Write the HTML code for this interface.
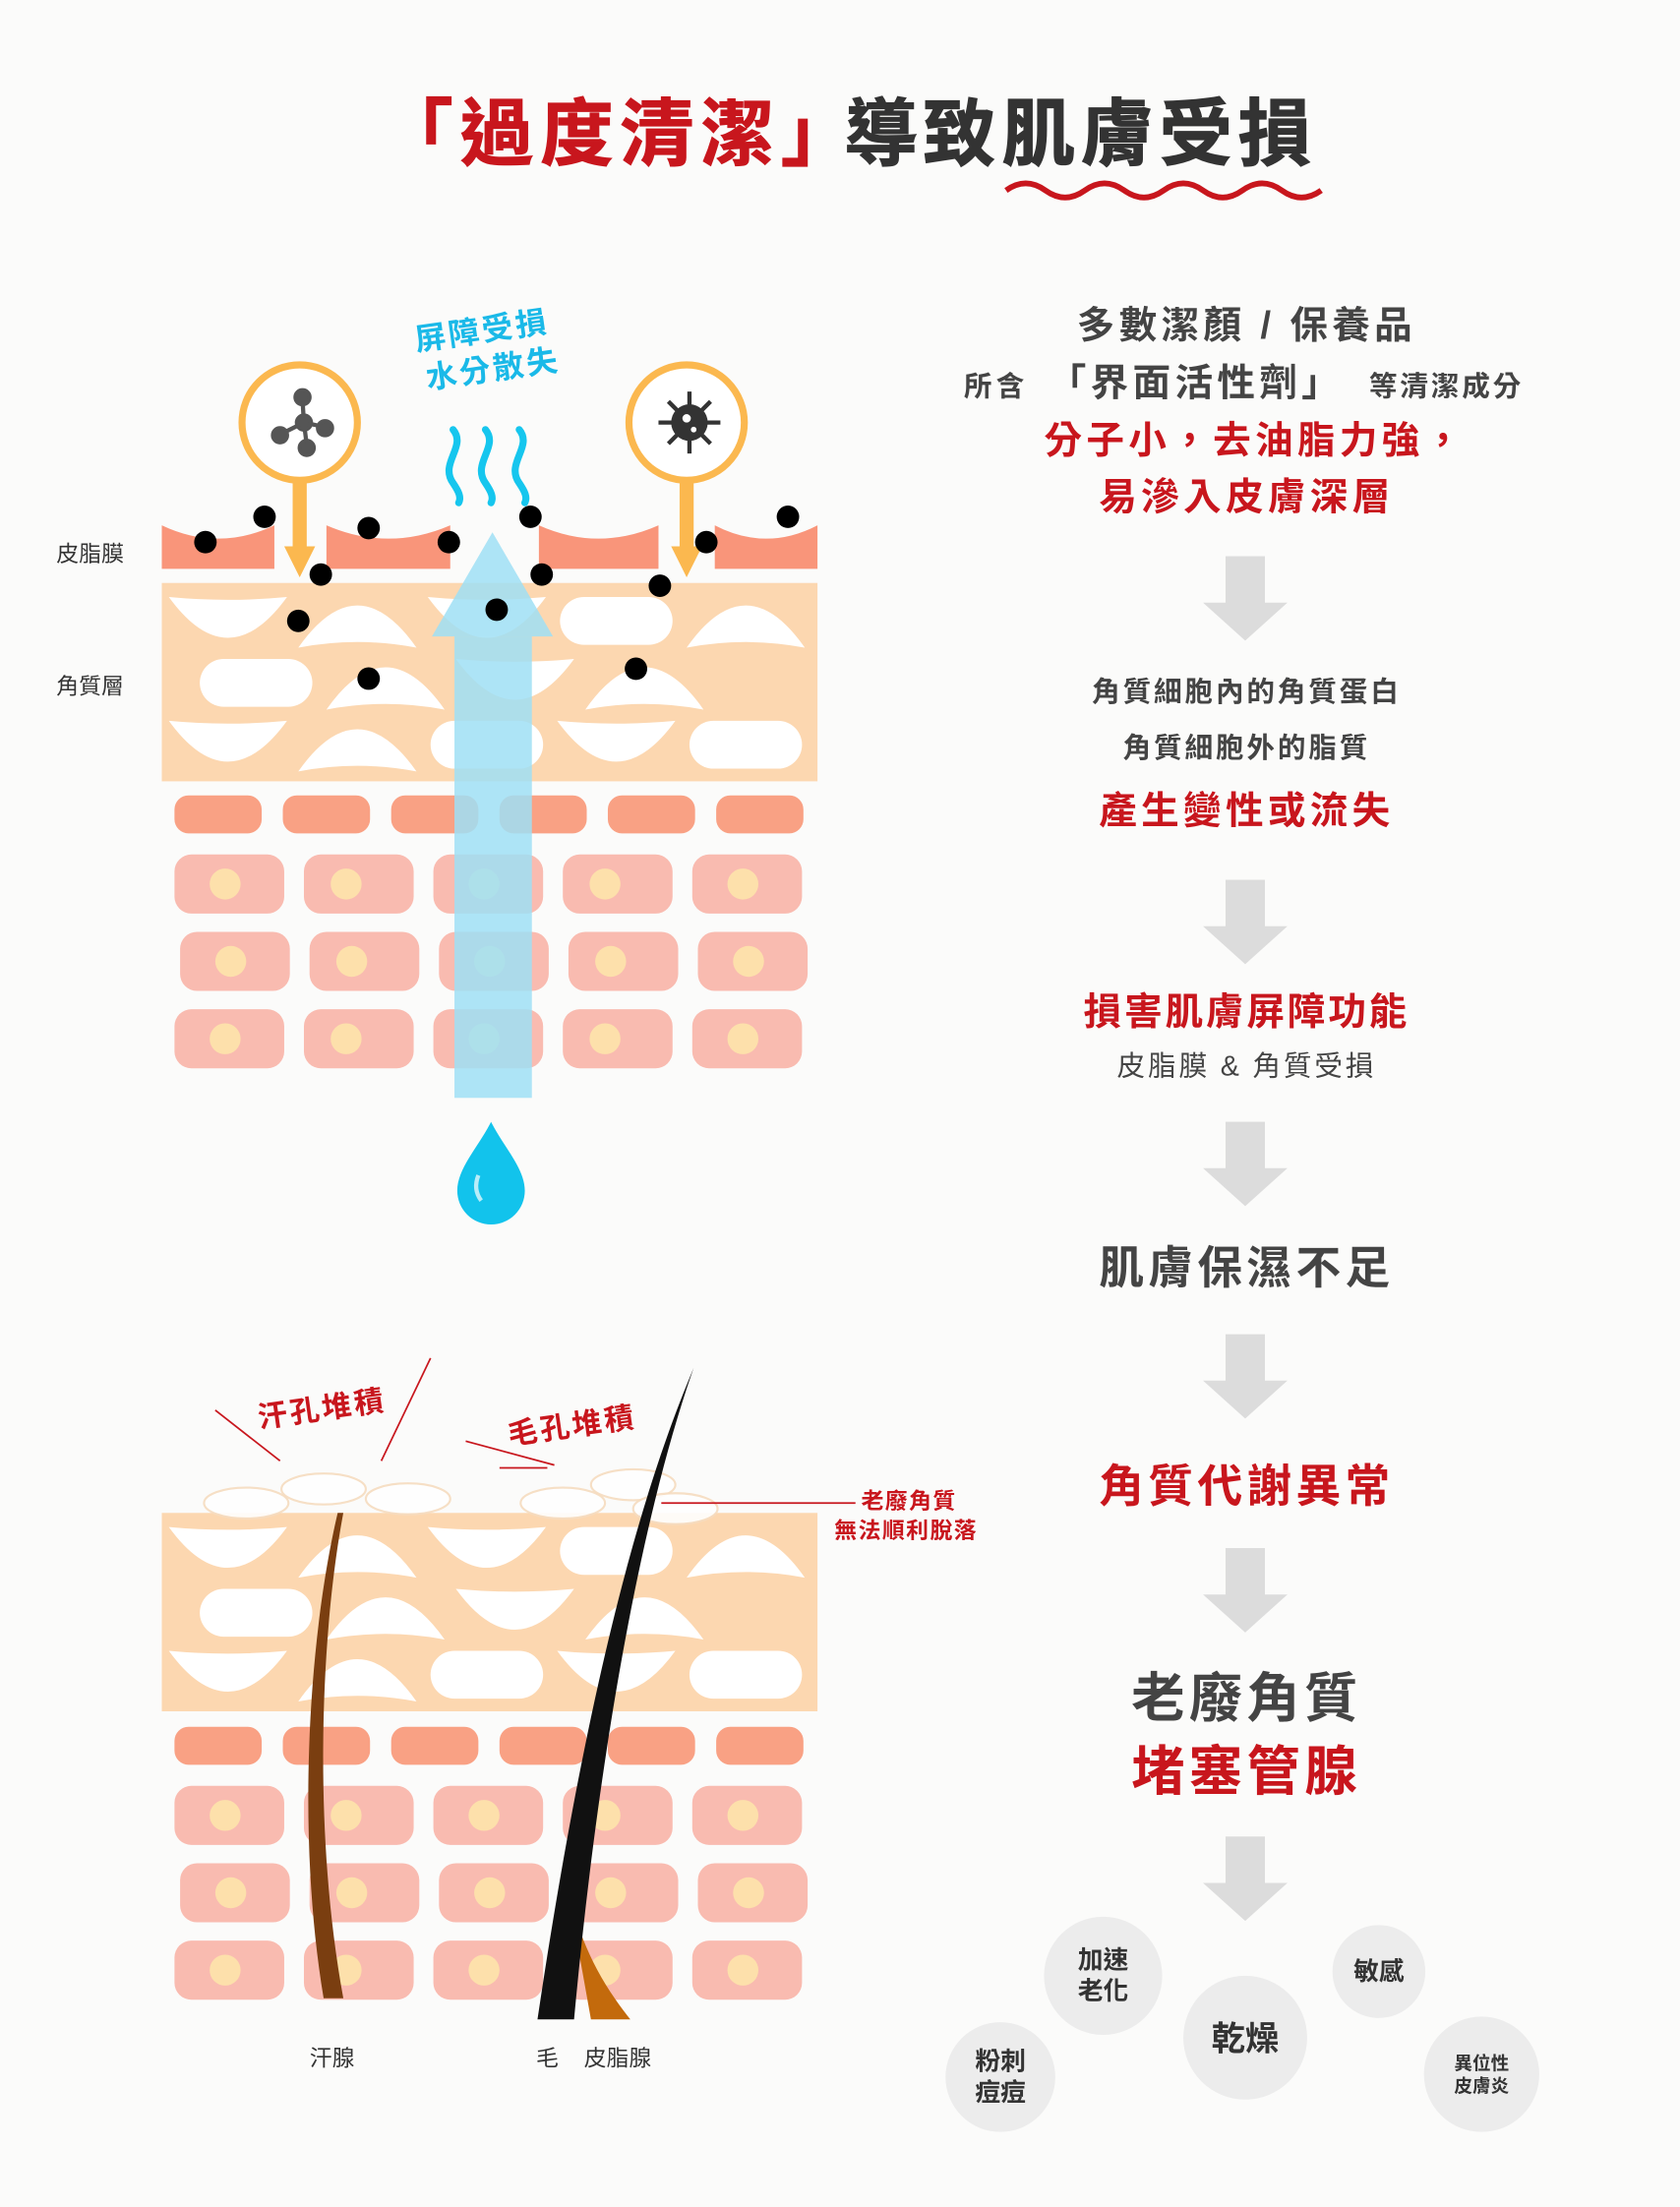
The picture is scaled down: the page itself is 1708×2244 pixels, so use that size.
<!DOCTYPE html>
<html><head><meta charset="utf-8">
<style>
html,body{margin:0;padding:0;background:#fbfbfa;}
svg{display:block}
text{font-family:"Liberation Sans","Noto Sans CJK TC",sans-serif;}
</style></head>
<body>
<svg id="s" xmlns="http://www.w3.org/2000/svg" width="1708" height="2244" viewBox="0 0 1194 1568">
<rect width="1194" height="1568" fill="#fbfbfa"/>
<text x="270" y="113" font-size="52" font-weight="bold" fill="#c8161d" font-family="Noto Serif CJK SC, serif" letter-spacing="5" stroke="#c8161d" stroke-width="0.8">「過度清潔」</text>
<text x="600" y="113" font-size="52" font-weight="bold" fill="#333" font-family="Noto Serif CJK SC, serif" letter-spacing="4" stroke="#333" stroke-width="0.8">導致肌膚受損</text>
<path d="M715,135 q14,-10 28,0 t28,0 t28,0 t28,0 t28,0 t28,0 t28,0 t28,0" fill="none" stroke="#c8161d" stroke-width="4"/>

<g id="skin1"></g>
<g id="skin2"></g>

<text x="40" y="399" font-size="16" fill="#333">皮脂膜</text>
<text x="40" y="493" font-size="16" fill="#333">角質層</text>

<g transform="rotate(-8 345 245)" fill="#1ab9e8" font-size="22" font-weight="bold" letter-spacing="2">
<text x="296" y="242">屏障受損</text>
<text x="300" y="270">水分散失</text>
</g>
<g fill="none" stroke="#16c6ee" stroke-width="5" stroke-linecap="round">
<path d="M322,305 c10,12 -10,24 0,38 c4,6 6,10 4,14"/>
<path d="M345,305 c10,12 -10,24 0,38 c4,6 6,10 4,14"/>
<path d="M369,305 c10,12 -10,24 0,38 c4,6 6,10 4,14"/>
</g>
<path d="M349,797 C340,815 325,830 325,846 A24,24 0 0 0 373,846 C373,830 358,815 349,797Z" fill="#12c3ec"/>
<path d="M340,835 q-4,10 2,18" stroke="#fff" stroke-width="3" fill="none" opacity=".7"/>

<g>
<circle cx="213" cy="300" r="41" fill="#fff" stroke="#fbb84f" stroke-width="5"/>
<rect x="208" y="340" width="10" height="50" fill="#fbb84f"/>
<polygon points="202,388 224,388 213,410" fill="#fbb84f"/>
<g stroke="#555" stroke-width="3" fill="#555"><line x1="215" y1="284" x2="216" y2="300"/><line x1="216" y1="300" x2="200" y2="308"/><line x1="216" y1="300" x2="230" y2="303"/><line x1="216" y1="300" x2="218" y2="316"/>
<circle cx="215" cy="282" r="5"/><circle cx="216" cy="300" r="5"/><circle cx="199" cy="309" r="5"/><circle cx="231" cy="304" r="5"/><circle cx="218" cy="318" r="5"/></g>
<circle cx="488" cy="300" r="41" fill="#fff" stroke="#fbb84f" stroke-width="5"/>
<rect x="483" y="340" width="10" height="50" fill="#fbb84f"/>
<polygon points="477,388 499,388 488,410" fill="#fbb84f"/>
<g stroke="#333" stroke-width="3"><line x1="490" y1="278" x2="490" y2="322"/><line x1="468" y1="300" x2="512" y2="300"/><line x1="475" y1="285" x2="505" y2="315"/><line x1="505" y1="285" x2="475" y2="315"/></g>
<circle cx="490" cy="300" r="13" fill="#333"/><circle cx="488" cy="297" r="3" fill="#fff"/><circle cx="493" cy="305" r="2" fill="#fff"/>
</g>

<g fill="#000">
<circle cx="146" cy="385" r="8"/><circle cx="188" cy="367" r="8"/><circle cx="228" cy="408" r="8"/><circle cx="262" cy="375" r="8"/><circle cx="319" cy="385" r="8"/><circle cx="212" cy="441" r="8"/><circle cx="262" cy="482" r="8"/><circle cx="377" cy="367" r="8"/><circle cx="385" cy="408" r="8"/><circle cx="353" cy="433" r="8"/><circle cx="469" cy="416" r="8"/><circle cx="452" cy="475" r="8"/><circle cx="502" cy="385" r="8"/><circle cx="560" cy="367" r="8"/>
</g>

<g transform="rotate(-8 230 995)"><text x="182" y="1008" font-size="21" font-weight="bold" fill="#c8161d" letter-spacing="2">汗孔堆積</text></g>
<g transform="rotate(-8 408 1008)"><text x="360" y="1020" font-size="21" font-weight="bold" fill="#c8161d" letter-spacing="2">毛孔堆積</text></g>
<g stroke="#c8161d" stroke-width="1.2">
<line x1="153" y1="1002" x2="199" y2="1038"/><line x1="306" y1="965" x2="271" y2="1038"/>
<line x1="331" y1="1024" x2="394" y2="1041"/><line x1="355" y1="1043" x2="389" y2="1043"/>
<line x1="470" y1="1068" x2="608" y2="1068"/>
</g>
<text x="612" y="1072" font-size="16" font-weight="bold" fill="#c8161d" letter-spacing="1">老廢角質</text>
<text x="593" y="1093" font-size="16" font-weight="bold" fill="#c8161d" letter-spacing="1">無法順利脫落</text>
<text x="220" y="1468" font-size="16" fill="#333">汗腺</text>
<text x="381" y="1468" font-size="16" fill="#333">毛</text>
<text x="415" y="1468" font-size="16" fill="#333">皮脂腺</text>

<g text-anchor="middle" font-weight="bold">
<text x="886" y="240" font-size="27" fill="#444" letter-spacing="3">多數潔顏 / 保養品</text>
<text x="708" y="281" font-size="20" fill="#444" letter-spacing="3">所含</text>
<text x="850" y="281" font-size="27" fill="#444" letter-spacing="3">「界面活性劑」</text>
<text x="1028" y="281" font-size="20" fill="#444" letter-spacing="2">等清潔成分</text>
<text x="892" y="322" font-size="27" fill="#c8161d" letter-spacing="3">分子小，去油脂力強，</text>
<text x="886" y="362" font-size="27" fill="#c8161d" letter-spacing="3">易滲入皮膚深層</text>
<text x="886" y="498" font-size="20" fill="#444" letter-spacing="2">角質細胞內的角質蛋白</text>
<text x="886" y="538" font-size="20" fill="#444" letter-spacing="2">角質細胞外的脂質</text>
<text x="886" y="585" font-size="27" fill="#c8161d" letter-spacing="3">產生變性或流失</text>
<text x="886" y="728" font-size="27" fill="#c8161d" letter-spacing="2">損害肌膚屏障功能</text>
<text x="886" y="764" font-size="20" font-weight="normal" fill="#444" letter-spacing="2">皮脂膜 &amp; 角質受損</text>
<text x="886" y="912" font-size="32" fill="#444" letter-spacing="3">肌膚保濕不足</text>
<text x="886" y="1067" font-size="32" fill="#c8161d" letter-spacing="3">角質代謝異常</text>
<text x="886" y="1220" font-size="38" fill="#444" letter-spacing="3">老廢角質</text>
<text x="886" y="1272" font-size="38" fill="#c8161d" letter-spacing="3">堵塞管腺</text>
</g>
<g fill="#dcdcdc" id="arrows"></g>

<g fill="#ececec">
<circle cx="784" cy="1404" r="42"/><circle cx="885" cy="1448" r="44"/><circle cx="980" cy="1401" r="33"/><circle cx="711" cy="1476" r="39"/><circle cx="1053" cy="1474" r="41"/>
</g>
<g text-anchor="middle" fill="#333" font-weight="bold">
<text x="784" y="1399" font-size="18">加速</text><text x="784" y="1421" font-size="18">老化</text>
<text x="885" y="1457" font-size="24">乾燥</text>
<text x="980" y="1407" font-size="18">敏感</text>
<text x="711" y="1471" font-size="18">粉刺</text><text x="711" y="1493" font-size="18">痘痘</text>
<text x="1053" y="1471" font-size="13">異位性</text><text x="1053" y="1487" font-size="13">皮膚炎</text>
</g>
</svg>
<script>
const NS="http://www.w3.org/2000/svg";
function el(p,t,a){const e=document.createElementNS(NS,t);for(const k in a)e.setAttribute(k,a[k]);p.appendChild(e);return e;}
function corneum(g,y0){
 el(g,'rect',{x:115,y:y0,width:466,height:141,fill:'#fcd7b0'});
 const types=[[0,1,0,2,1],[2,1,0,1,0],[0,1,2,0,2]];
 for(let r=0;r<3;r++)for(let c=0;c<5;c++){
  const x=120+c*92+(r==1?20:0), y=y0+8+r*44, w=84, h=38, t=types[r][c];
  if(x+w>580)continue;
  let d;
  if(t==0) d=`M${x},${y+2} Q${x+w/2},${y+h+22} ${x+w},${y+2} Q${x+w/2},${y+6} ${x},${y+2}Z`;
  else if(t==1) d=`M${x},${y+h} Q${x+w/2},${y-22} ${x+w},${y+h} Q${x+w/2},${y+h-8} ${x},${y+h}Z`;
  else { el(g,'rect',{x:x+2,y:y+2,width:w-4,height:h-4,rx:17,fill:'#fff'}); continue;}
  el(g,'path',{d,fill:'#fff'});
 }
}
function lower(g,y0){
 for(let i=0;i<6;i++) el(g,'rect',{x:124+i*77,y:y0,width:62,height:27,rx:10,fill:'#f9a184'});
 for(let r=0;r<3;r++)for(let i=0;i<5;i++){
  const x=124+i*92+(r%2?4:0), y=y0+42+r*55;
  el(g,'rect',{x,y,width:78,height:42,rx:12,fill:'#f9bbb0'});
  el(g,'ellipse',{cx:x+(i%2?30:36),cy:y+21,rx:11,ry:11,fill:'#fde0ab'});
 }
}
const s1=document.getElementById('skin1');
[[115,195],[232,320],[383,468],[508,581]].forEach(([a,b])=>{
 el(s1,'path',{d:`M${a},373 Q${(a+b)/2},392 ${b},373 L${b},404 L${a},404Z`,fill:'#f9957a'});
});
corneum(s1,414); lower(s1,565);
el(s1,'rect',{x:323,y:452,width:55,height:328,fill:'#9fdff5',opacity:.85});
el(s1,'polygon',{points:'307,452 393,452 350,378',fill:'#9fdff5',opacity:.85});
const s2=document.getElementById('skin2');
corneum(s2,1075); lower(s2,1227);
[[175,1068],[230,1058],[290,1065],[400,1068],[450,1055],[480,1072]].forEach(([x,y])=>el(s2,'ellipse',{cx:x,cy:y,rx:30,ry:11,fill:'#fff',stroke:'#f6dcc0','stroke-width':1.5,opacity:.9}));
el(s2,'path',{d:'M240,1075 C220,1160 210,1300 230,1420 L244,1420 C222,1300 228,1160 244,1075Z',fill:'#7a3e10'});
el(s2,'path',{d:'M403,1340 L420,1435 L448,1435 C420,1400 410,1370 403,1340Z',fill:'#c36a0c'});
el(s2,'path',{d:'M493,972 C460,1050 420,1180 382,1435 L408,1435 C425,1250 455,1080 493,972Z',fill:'#111'});
const ar=document.getElementById('arrows');
[395,625,797,948,1100,1305].forEach(y=>{
 el(ar,'rect',{x:871,y:y,width:28,height:35});
 el(ar,'polygon',{points:`855,${y+33} 915,${y+33} 885,${y+60}`});
});
</script>
</body></html>
